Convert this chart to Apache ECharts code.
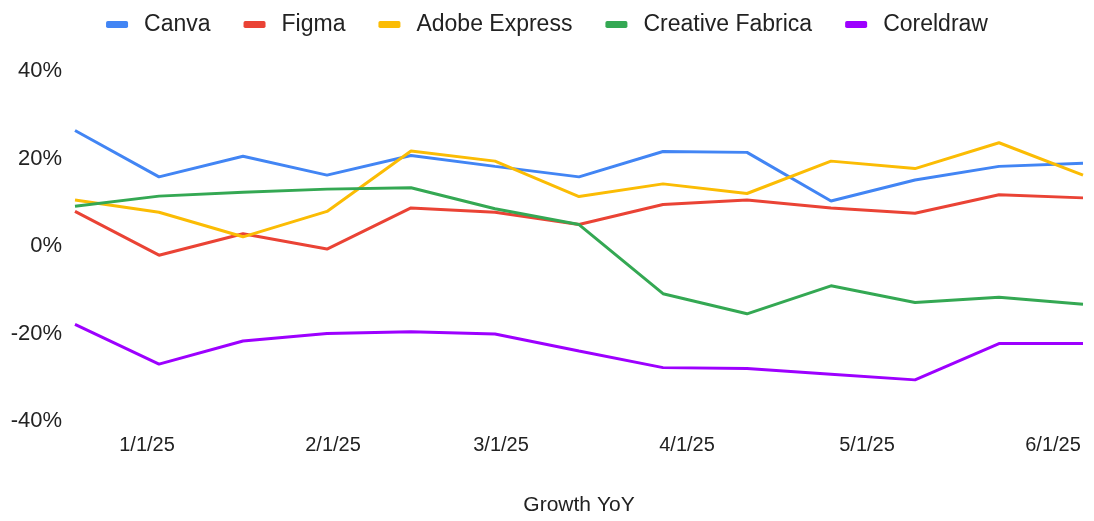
<!DOCTYPE html>
<html>
<head>
<meta charset="utf-8">
<script src="https://cdn.jsdelivr.net/npm/echarts@6/dist/echarts.min.js"></script>
<style>
  html, body { margin: 0; padding: 0; background: #ffffff; }
  #chart { width: 1094px; height: 521px; }
</style>
</head>
<body>
<div id="chart"></div>
<script>
const dates = ['2024-12-20','2025-01-03','2025-01-17','2025-01-31','2025-02-14','2025-02-28','2025-03-14','2025-03-28','2025-04-11','2025-04-25','2025-05-09','2025-05-23','2025-06-06'];
const canva = [26.4, 15.8, 20.5, 16.2, 20.7, 18.2, 15.8, 21.6, 21.4, 10.3, 15.1, 18.2, 18.9];
const figma = [7.9, -2.1, 2.8, -0.7, 8.7, 7.7, 4.9, 9.5, 10.5, 8.7, 7.5, 11.7, 11.0];
const adobeExpress = [10.5, 7.7, 2.1, 7.9, 21.7, 19.4, 11.3, 14.2, 12.0, 19.4, 17.7, 23.6, 16.2];
const creativeFabrica = [9.1, 11.4, 12.3, 13.0, 13.3, 8.5, 4.9, -10.9, -15.5, -9.1, -12.9, -11.7, -13.3];
const coreldraw = [-17.9, -27.0, -21.7, -20.0, -19.6, -20.1, -24.0, -27.8, -28.0, -29.3, -30.6, -22.3, -22.3];
const seriesNames = ['Canva', 'Figma', 'Adobe Express', 'Creative Fabrica', 'Coreldraw'];
const seriesColors = ['#4285F4', '#EA4335', '#FBBC04', '#34A853', '#9D00FF'];
const yTicks = { min: -40, max: 40, interval: 20 };
const xTitle = 'Growth YoY';

const allValues = [canva, figma, adobeExpress, creativeFabrica, coreldraw];
const font = '"Liberation Sans", Arial, sans-serif';

const chart = echarts.init(document.getElementById('chart'), null, { renderer: 'canvas' });
chart.setOption({
  animation: false,
  backgroundColor: '#ffffff',
  textStyle: { fontFamily: font },
  legend: {
    top: 8,
    left: 'center',
    itemWidth: 22,
    itemHeight: 7,
    itemGap: 33,
    icon: 'roundRect',
    textStyle: { fontSize: 23, color: '#222222', fontFamily: font, padding: [0, 0, 0, 11] },
    data: seriesNames
  },
  grid: { left: 75, right: 11, top: 71, bottom: 95, containLabel: false },
  xAxis: {
    type: 'time',
    min: dates[0],
    max: dates[dates.length - 1],
    splitNumber: 6,
    minInterval: 28 * 86400000,
    name: xTitle,
    nameLocation: 'middle',
    nameGap: 74,
    nameTextStyle: { fontSize: 21, color: '#222222', fontFamily: font },
    axisLine: { show: false },
    axisTick: { show: false },
    splitLine: { show: false },
    axisLabel: {
      fontSize: 20,
      color: '#222222',
      margin: 14,
      hideOverlap: false,
      formatter: function (val) {
        const d = new Date(val);
        if (d.getDate() !== 1) return '';
        return (d.getMonth() + 1) + '/1/' + String(d.getFullYear()).slice(2);
      }
    }
  },
  yAxis: {
    type: 'value',
    min: yTicks.min,
    max: yTicks.max,
    interval: yTicks.interval,
    axisLine: { show: false },
    axisTick: { show: false },
    splitLine: { show: false },
    axisLabel: { fontSize: 22, color: '#222222', margin: 13, formatter: '{value}%' }
  },
  series: seriesNames.map(function (name, i) {
    return {
      name: name,
      type: 'line',
      showSymbol: false,
      symbol: 'none',
      color: seriesColors[i],
      lineStyle: { width: 3, color: seriesColors[i] },
      data: dates.map(function (d, j) { return [d, allValues[i][j]]; })
    };
  })
});
</script>
</body>
</html>
